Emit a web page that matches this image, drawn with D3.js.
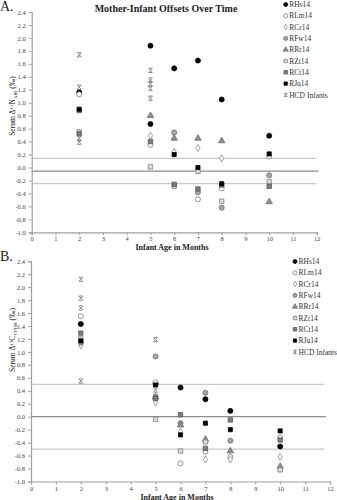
<!DOCTYPE html>
<html>
<head>
<meta charset="utf-8">
<script src="https://cdn.jsdelivr.net/npm/d3@7"></script>
<style>
  html, body { margin: 0; padding: 0; background: #fff; }
  svg { display: block; font-family: "Liberation Serif", "Times New Roman", serif; }
</style>
</head>
<body>
<svg id="chart" width="337" height="500"></svg>
<script>
// ---- series names and tick values ----
const seriesNames = ["RHs14", "RLm14", "RCr14", "RFw14", "RRr14", "RZt14", "RCt14", "RJu14", "HCD Infants"];
const xTicks = d3.range(0, 13);
const yTicks = d3.range(-1.0, 2.41, 0.2);

// ---- panel A: serum Δ15N offsets, [month, value] ----
const nRHs14 = [[2, 1.16], [5, 1.88], [5, 0.67], [6, 1.53], [7, 1.65], [8, 1.05], [10, 0.49]];
const nRLm14 = [[2, 1.13], [5, 0.35], [7, -0.49], [8, -0.32], [10, 0.17]];
const nRCr14 = [[5, 0.49], [6, 0.24], [7, 0.30], [8, 0.14]];
const nRFw14 = [[6, 0.54], [7, -0.38], [8, -0.62], [10, -0.12]];
const nRRr14 = [[5, 0.80], [6, 0.45], [7, 0.45], [8, 0.41], [10, -0.53]];
const nRZt14 = [[2, 0.55], [5, 0.01], [6, -0.29], [7, -0.06], [8, -0.52], [10, -0.22]];
const nRCt14 = [[2, 0.52], [2, 0.88], [5, 0.40], [6, -0.26], [7, -0.33], [8, -0.27], [10, -0.29]];
const nRJu14 = [[2, 0.90], [6, 0.20], [7, 0.00], [8, -0.25], [10, 0.21]];
const nHCD   = [[2, 1.74], [2, 1.24], [2, 0.45], [2, 0.39],
                [5, 1.50], [5, 1.35], [5, 1.29], [5, 1.22], [5, 1.07]];
const nRefLines = [0.14, -0.055, -0.25];

// ---- panel B: serum Δ13C offsets, [month, value] ----
const cRHs14 = [[2, 1.43], [5, 0.51], [6, 0.45], [7, 0.27], [8, 0.09], [10, -0.46]];
const cRLm14 = [[2, 1.55], [5, 0.53], [6, -0.72], [7, -0.54], [8, -0.62], [10, -0.32]];
const cRCr14 = [[2, 1.10], [5, 0.22], [6, -0.23], [7, -0.66], [8, -0.66], [10, -0.62]];
const cRFw14 = [[2, 1.14], [5, 0.93], [5, 0.31], [6, -0.10], [7, 0.37], [8, -0.37]];
const cRRr14 = [[5, 0.30], [6, -0.13], [7, -0.35], [8, -0.53], [10, -0.77]];
const cRZt14 = [[2, 1.20], [5, -0.04], [6, -0.53], [7, -0.39], [10, -0.82]];
const cRCt14 = [[2, 1.29], [5, 0.28], [6, 0.03], [7, -0.49], [8, -0.05], [10, -0.36]];
const cRJu14 = [[2, 1.17], [5, 0.49], [6, -0.28], [7, -0.10], [8, -0.20], [10, -0.22]];
const cHCD   = [[2, 2.12], [2, 1.83], [2, 1.68], [2, 0.55], [5, 1.19], [5, 0.41]];
const cRefLines = [0.5, 0.0, -0.5];

// ---- marker styles per series ----
const hcdPath = s => `M${-s},${-s}L${s},${s}M${s},${-s}L${-s},${s}M${-s * 0.7},${-s}L${s * 0.7},${-s}M${-s * 0.7},${s}L${s * 0.7},${s}`;
const styles = {
  "RHs14":       { type: d3.symbolCircle,   fill: "#000",    stroke: "#000",    area: 20 },
  "RLm14":       { type: d3.symbolCircle,   fill: "#fff",    stroke: "#7a7a7a", area: 20 },
  "RCr14":       { type: d3.symbolDiamond,  fill: "#fff",    stroke: "#8a8a8a", area: 15 },
  "RFw14":       { type: d3.symbolCircle,   fill: "#a8a8a8", stroke: "#6a6a6a", area: 20 },
  "RRr14":       { type: d3.symbolTriangle, fill: "#8e8e8e", stroke: "#6e6e6e", area: 18 },
  "RZt14":       { type: d3.symbolSquare,   fill: "#dcdcdc", stroke: "#808080", area: 19 },
  "RCt14":       { type: d3.symbolSquare,   fill: "#7f7f7f", stroke: "#555",    area: 19 },
  "RJu14":       { type: d3.symbolSquare,   fill: "#000",    stroke: "#000",    area: 17 },
  "HCD Infants": { hcd: true,               fill: "none",    stroke: "#6e6e6e", area: 0 }
};

function drawMarker(g, name, scale) {
  const st = styles[name];
  if (st.hcd) {
    g.append("path").attr("d", hcdPath(2.2 * scale))
      .attr("fill", "none").attr("stroke", st.stroke).attr("stroke-width", 0.8);
  } else {
    g.append("path").attr("d", d3.symbol().type(st.type).size(st.area * scale * scale)())
      .attr("fill", st.fill).attr("stroke", st.stroke).attr("stroke-width", 0.8);
  }
}

const svg = d3.select("#chart");

function panel(cfg) {
  const x = d3.scaleLinear().domain([0, 12]).range([cfg.x0, cfg.x1]);
  const y = d3.scaleLinear().domain([-1.0, 2.4]).range([cfg.yBottom, cfg.yTop]);
  const g = svg.append("g");

  // reference band lines
  cfg.refs.forEach((v, i) => {
    g.append("line")
      .attr("x1", x(0)).attr("x2", cfg.refEnd + (i === 1 ? 2 : 0))
      .attr("y1", y(v)).attr("y2", y(v))
      .attr("stroke", i === 1 ? "#8c8c8c" : "#c8c8c8")
      .attr("stroke-width", 1.2);
  });

  // axes
  const yAxis = d3.axisLeft(y).tickValues(yTicks).tickSize(3).tickPadding(3)
    .tickFormat(d => d3.format(".1f")(d).replace("\u2212", "-"));
  const xAxis = d3.axisBottom(x).tickValues(xTicks).tickSize(3).tickPadding(1.5);
  const ya = g.append("g").attr("transform", `translate(${x(0)},0)`).call(yAxis);
  const xa = g.append("g").attr("transform", `translate(0,${y(-1.0)})`).call(xAxis);
  [ya, xa].forEach(a => {
    a.select(".domain").attr("stroke", "#a0a0a0").attr("stroke-width", 1.2);
    a.selectAll(".tick line").attr("stroke", "#a0a0a0");
    a.selectAll(".tick text").attr("fill", "#444").style("font-size", "6.5px")
      .style("font-family", "Liberation Serif, serif");
  });

  // data points
  cfg.series.forEach((pts, si) => {
    const name = seriesNames[si];
    pts.forEach(p => {
      const m = g.append("g").attr("transform", `translate(${x(p[0])},${y(p[1])})`);
      drawMarker(m, name, 1);
    });
  });

  // axis titles
  g.append("text")
    .attr("x", cfg.xTitleX).attr("y", y(-1.0) + 18)
    .attr("text-anchor", "middle").attr("font-weight", "bold")
    .style("font-size", "8px").attr("fill", "#222")
    .text("Infant Age in Months");

  const yt = g.append("text")
    .attr("transform", `translate(15,${cfg.yTitleY}) rotate(-90)`)
    .attr("text-anchor", "middle").style("font-size", "7.5px").attr("fill", "#222");
  yt.append("tspan").text("Serum " + cfg.delta);
  yt.append("tspan").attr("dy", -2.5).style("font-size", "5px").text(cfg.iso);
  yt.append("tspan").attr("dy", 2.5).text(cfg.elem);
  yt.append("tspan").attr("dy", 1.5).style("font-size", "5px").text(cfg.std);
  yt.append("tspan").attr("dy", -1.5).text(" (\u2030)");

  // legend
  const lg = g.append("g");
  seriesNames.forEach((name, i) => {
    const cy = cfg.legY + i * 11.3;
    const m = lg.append("g").attr("transform", `translate(${cfg.legX},${cy})`);
    drawMarker(m, name, 0.8);
    lg.append("text").attr("x", cfg.legX + 3.5).attr("y", cy + 2.6)
      .style("font-size", "7.5px").attr("fill", "#333").text(name);
  });

  // panel letter
  g.append("text").attr("x", 0).attr("y", cfg.letterY)
    .style("font-size", "14px").attr("fill", "#222").text(cfg.letter);
}

panel({
  x0: 31.7, x1: 316.7, yTop: 12, yBottom: 232.3, refEnd: 316.5,
  refs: nRefLines,
  series: [nRHs14, nRLm14, nRCr14, nRFw14, nRRr14, nRZt14, nRCt14, nRJu14, nHCD],
  xTitleX: 172, yTitleY: 106,
  delta: "\u0394", iso: "15", elem: "N", std: "AIR",
  legX: 285.7, legY: 4.5, letter: "A.", letterY: 11
});

panel({
  x0: 31, x1: 330, yTop: 261.2, yBottom: 481.5, refEnd: 324,
  refs: cRefLines,
  series: [cRHs14, cRLm14, cRCr14, cRFw14, cRRr14, cRZt14, cRCt14, cRJu14, cHCD],
  xTitleX: 177, yTitleY: 340,
  delta: "\u0394", iso: "13", elem: "C", std: "VPDB",
  legX: 295, legY: 261.5, letter: "B.", letterY: 261
});

// chart title
svg.append("text").attr("x", 166).attr("y", 11.5)
  .attr("text-anchor", "middle").attr("font-weight", "bold")
  .style("font-size", "10px").attr("fill", "#222")
  .text("Mother-Infant Offsets Over Time");
</script>
</body>
</html>
